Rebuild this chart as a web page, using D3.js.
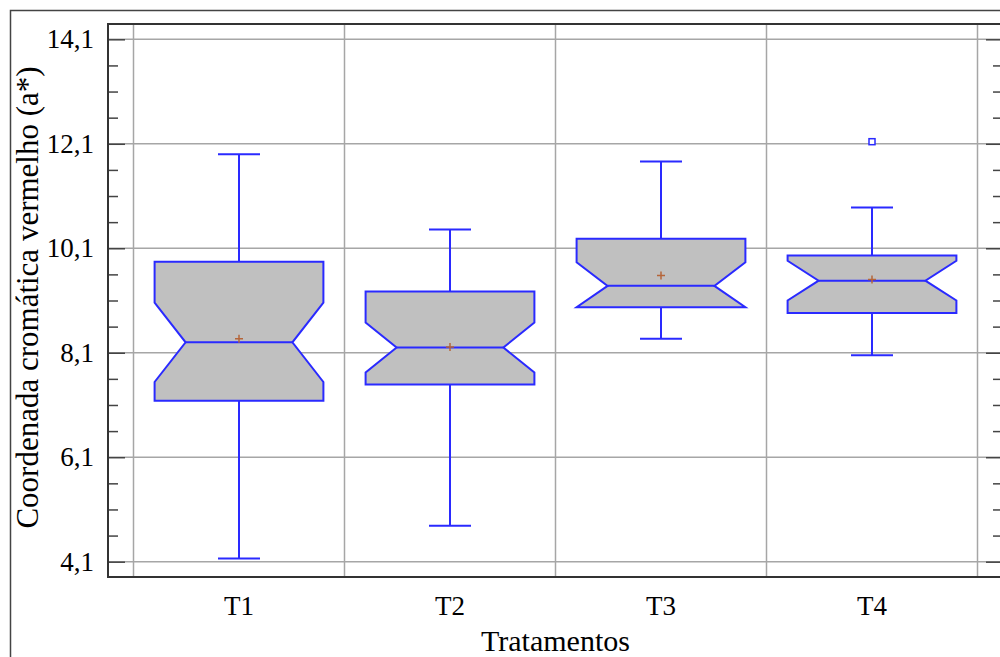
<!DOCTYPE html>
<html>
<head>
<meta charset="utf-8">
<script src="https://cdn.jsdelivr.net/npm/d3@7"></script>
<style>
  body { margin: 0; background: #fff; }
  svg text { font-family: "Liberation Serif", "Times New Roman", serif; fill: #000; }
</style>
</head>
<body>
<svg id="chart" width="1000" height="657"></svg>
<script>
// values
const categories = ['T1', 'T2', 'T3', 'T4'];
const whiskerLow = [4.16, 4.79, 8.37, 8.05];
const q1 = [7.18, 7.49, 8.97, 8.86];
const median = [8.30, 8.20, 9.38, 9.48];
const q3 = [9.84, 9.27, 10.28, 9.96];
const whiskerHigh = [11.90, 10.46, 11.76, 10.88];
const means = [8.37, 8.21, 9.58, 9.50];
const notchHalf = [0.76, 0.48, 0.45, 0.38];
const outliers = [[], [], [], [12.14]];
const yTicks = [4.1, 6.1, 8.1, 10.1, 12.1, 14.1];
const yMinorTicks = [4.6, 5.1, 5.6, 6.6, 7.1, 7.6, 8.6, 9.1, 9.6, 10.6, 11.1, 11.6, 12.6, 13.1, 13.6];
const xTitle = 'Tratamentos';
const yTitle = 'Coordenada cromática vermelho (a*)';

const margin = { top: 24, right: 1003, bottom: 577, left: 108 };
const pad = 25.5;

const svg = d3.select('#chart');
const fmt = d3.formatLocale({ decimal: ',', thousands: '.', grouping: [3], currency: ['', ''] }).format('.1f');

// scales
const y = d3.scaleLinear()
    .domain([3.807, 14.393])
    .range([margin.bottom, margin.top]);
const x = d3.scaleBand()
    .domain(categories)
    .range([margin.left + pad, margin.right - pad])
    .padding(0);

// outer frame
svg.append('path')
    .attr('d', `M10.5,657 V10.5 H1000`)
    .attr('fill', 'none')
    .attr('stroke', '#444')
    .attr('stroke-width', 1.5);

// grid
const grid = svg.append('g');
grid.selectAll('.hgrid')
    .data(yTicks)
    .join('line')
    .attr('class', 'hgrid')
    .attr('x1', margin.left).attr('x2', margin.right)
    .attr('y1', d => y(d)).attr('y2', d => y(d))
    .attr('stroke', '#a6a6a6')
    .attr('stroke-width', 1.5);
const bounds = categories.map(c => x(c)).concat([x(categories[categories.length - 1]) + x.bandwidth()]);
grid.selectAll('.vgrid')
    .data(bounds)
    .join('line')
    .attr('class', 'vgrid')
    .attr('x1', d => d).attr('x2', d => d)
    .attr('y1', margin.top).attr('y2', margin.bottom)
    .attr('stroke', '#a6a6a6')
    .attr('stroke-width', 1.5);

// y axes (left and right), ticks pointing inward
let yAxisLeft = d3.axisRight(y)
    .tickValues(yTicks)
    .tickSizeInner(17)
    .tickSizeOuter(0)
    .tickFormat('');
let yMinorLeft = d3.axisRight(y)
    .tickValues(yMinorTicks)
    .tickSizeInner(10)
    .tickSizeOuter(0)
    .tickFormat('');
let yAxisRight = d3.axisLeft(y)
    .tickValues(yTicks)
    .tickSizeInner(17)
    .tickSizeOuter(0)
    .tickFormat('');
let yMinorRight = d3.axisLeft(y)
    .tickValues(yMinorTicks)
    .tickSizeInner(10)
    .tickSizeOuter(0)
    .tickFormat('');

[[yAxisLeft, margin.left], [yMinorLeft, margin.left], [yAxisRight, margin.right], [yMinorRight, margin.right]]
    .forEach(([ax, px]) => {
        let g = svg.append('g')
            .attr('transform', `translate(${px}, 0)`)
            .call(ax);
        g.select('.domain').remove();
        g.selectAll('line').attr('stroke', '#444').attr('stroke-width', 1.5);
    });

// tick labels
svg.append('g').selectAll('text')
    .data(yTicks)
    .join('text')
    .attr('x', 94)
    .attr('y', d => y(d))
    .attr('dy', '0.34em')
    .attr('text-anchor', 'end')
    .attr('font-size', '27px')
    .text(d => fmt(d));

svg.append('g').selectAll('text')
    .data(categories)
    .join('text')
    .attr('x', d => x(d) + x.bandwidth() / 2)
    .attr('y', 615)
    .attr('text-anchor', 'middle')
    .attr('font-size', '27px')
    .text(d => d);

// plot frame
svg.append('rect')
    .attr('x', margin.left).attr('y', margin.top)
    .attr('width', margin.right - margin.left)
    .attr('height', margin.bottom - margin.top)
    .attr('fill', 'none')
    .attr('stroke', '#333')
    .attr('stroke-width', 2);

// titles
svg.append('text')
    .attr('x', (margin.left + margin.right) / 2)
    .attr('y', 651)
    .attr('text-anchor', 'middle')
    .attr('font-size', '30px')
    .text(xTitle);
svg.append('text')
    .attr('transform', `translate(38, ${(margin.top + margin.bottom) / 2 - 3}) rotate(-90)`)
    .attr('text-anchor', 'middle')
    .attr('font-size', '31px')
    .text(yTitle);

// boxes
const boxes = categories.map((c, i) => ({
    cat: c, lo: whiskerLow[i], q1: q1[i], med: median[i], q3: q3[i],
    hi: whiskerHigh[i], mean: means[i], notch: notchHalf[i], out: outliers[i]
}));
const boxHalf = x.bandwidth() * 0.4;
const indent = 31;
const capHalf = 21;
const blue = '#2a2aff';

const gBox = svg.append('g');

boxes.forEach(b => {
    let cx = x(b.cat) + x.bandwidth() / 2;
    let nHi = Math.min(b.med + b.notch, b.q3);
    let nLo = Math.max(b.med - b.notch, b.q1);
    let l = cx - boxHalf, r = cx + boxHalf;

    // whiskers
    gBox.append('line')
        .attr('x1', cx).attr('x2', cx)
        .attr('y1', y(b.q3)).attr('y2', y(b.hi))
        .attr('stroke', blue).attr('stroke-width', 2);
    gBox.append('line')
        .attr('x1', cx).attr('x2', cx)
        .attr('y1', y(b.q1)).attr('y2', y(b.lo))
        .attr('stroke', blue).attr('stroke-width', 2);
    [b.hi, b.lo].forEach(v => {
        gBox.append('line')
            .attr('x1', cx - capHalf).attr('x2', cx + capHalf)
            .attr('y1', y(v)).attr('y2', y(v))
            .attr('stroke', blue).attr('stroke-width', 2);
    });

    // notched box
    let pts = [
        [l, y(b.q3)], [r, y(b.q3)], [r, y(nHi)], [r - indent, y(b.med)], [r, y(nLo)],
        [r, y(b.q1)], [l, y(b.q1)], [l, y(nLo)], [l + indent, y(b.med)], [l, y(nHi)]
    ];
    gBox.append('path')
        .attr('d', d3.line()(pts) + 'Z')
        .attr('fill', '#c0c0c0')
        .attr('stroke', blue)
        .attr('stroke-width', 2);
    gBox.append('line')
        .attr('x1', l + indent).attr('x2', r - indent)
        .attr('y1', y(b.med)).attr('y2', y(b.med))
        .attr('stroke', blue).attr('stroke-width', 2);

    // mean marker
    let my = y(b.mean);
    gBox.append('path')
        .attr('d', `M${cx - 4},${my} H${cx + 4} M${cx},${my - 4} V${my + 4}`)
        .attr('stroke', '#b5653a')
        .attr('stroke-width', 1.5);

    // outliers
    b.out.forEach(v => {
        gBox.append('rect')
            .attr('x', cx - 3).attr('y', y(v) - 3)
            .attr('width', 6).attr('height', 6)
            .attr('fill', '#fff')
            .attr('stroke', blue)
            .attr('stroke-width', 1.5);
    });
});
</script>
</body>
</html>
